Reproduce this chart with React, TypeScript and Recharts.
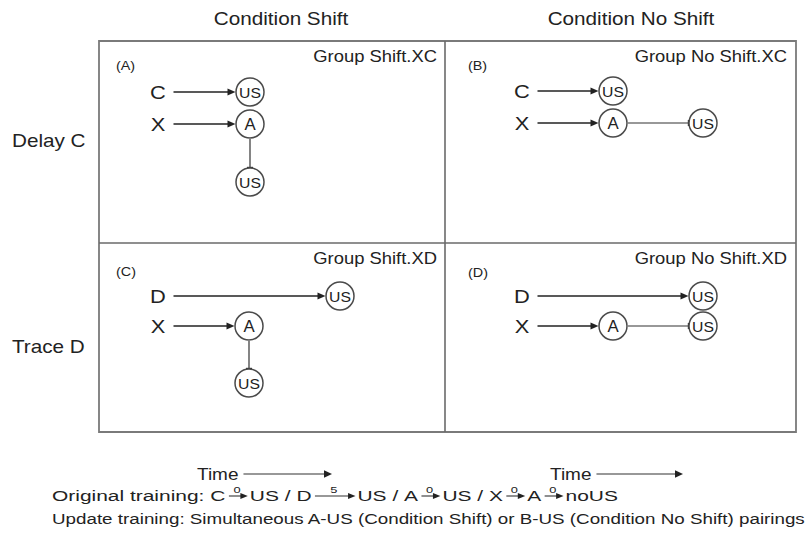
import React from 'react';
import { ScatterChart, Scatter, XAxis, YAxis, ReferenceArea, ReferenceLine } from 'recharts';

const W = 811;
const H = 558;

// text content
const columnTitles = ['Condition Shift', 'Condition No Shift'];
const rowTitles = ['Delay C', 'Trace D'];
const panelTags = ['(A)', '(B)', '(C)', '(D)'];
const groupNames = ['Group Shift.XC', 'Group No Shift.XC', 'Group Shift.XD', 'Group No Shift.XD'];
const timeLabels = ['Time', 'Time'];
// chains of stimulus / delay / stimulus ...
const originalTraining = [
	['C', '0', 'US'],
	['D', '5', 'US'],
	['A', '0', 'US'],
	['X', '0', 'A', '0', 'noUS'],
];
const updateTraining = 'Update training: Simultaneous A-US (Condition Shift) or B-US (Condition No Shift) pairings';

// diagram nodes, in page coordinates
const cueNodes = [
	{ panel: 'A', id: 'C', x: 158, y: 92 },
	{ panel: 'A', id: 'X', x: 158, y: 124 },
	{ panel: 'B', id: 'C', x: 522, y: 91 },
	{ panel: 'B', id: 'X', x: 522, y: 123 },
	{ panel: 'C', id: 'D', x: 158, y: 296 },
	{ panel: 'C', id: 'X', x: 158, y: 326 },
	{ panel: 'D', id: 'D', x: 522, y: 296 },
	{ panel: 'D', id: 'X', x: 522, y: 326 },
];
const eventNodes = [
	{ panel: 'A', id: 'US1', label: 'US', x: 250, y: 92 },
	{ panel: 'A', id: 'A', label: 'A', x: 250, y: 124 },
	{ panel: 'A', id: 'US2', label: 'US', x: 250, y: 182 },
	{ panel: 'B', id: 'US1', label: 'US', x: 613, y: 91 },
	{ panel: 'B', id: 'A', label: 'A', x: 613, y: 123 },
	{ panel: 'B', id: 'US2', label: 'US', x: 703, y: 123 },
	{ panel: 'C', id: 'US1', label: 'US', x: 340, y: 296 },
	{ panel: 'C', id: 'A', label: 'A', x: 249, y: 326 },
	{ panel: 'C', id: 'US2', label: 'US', x: 249, y: 383 },
	{ panel: 'D', id: 'US1', label: 'US', x: 703, y: 296 },
	{ panel: 'D', id: 'A', label: 'A', x: 613, y: 326 },
	{ panel: 'D', id: 'US2', label: 'US', x: 703, y: 326 },
];
const links = [
	{ panel: 'A', from: 'C', to: 'US1', head: 'arrow' },
	{ panel: 'A', from: 'X', to: 'A', head: 'arrow' },
	{ panel: 'A', from: 'A', to: 'US2', head: 'tee' },
	{ panel: 'B', from: 'C', to: 'US1', head: 'arrow' },
	{ panel: 'B', from: 'X', to: 'A', head: 'arrow' },
	{ panel: 'B', from: 'A', to: 'US2', head: 'tee' },
	{ panel: 'C', from: 'D', to: 'US1', head: 'arrow' },
	{ panel: 'C', from: 'X', to: 'A', head: 'arrow' },
	{ panel: 'C', from: 'A', to: 'US2', head: 'tee' },
	{ panel: 'D', from: 'D', to: 'US1', head: 'arrow' },
	{ panel: 'D', from: 'X', to: 'A', head: 'arrow' },
	{ panel: 'D', from: 'A', to: 'US2', head: 'tee' },
];

// layout
const box = { left: 99, right: 796, top: 41, bottom: 432, midX: 445, midY: 243 };
const FONT = '"Liberation Sans", Arial, Helvetica, sans-serif';
const TXT = '#222';
const SX = 1.15; // the figure is a bit wide
const R = 14;
const CUE_GAP = 15.5;

let ctx: CanvasRenderingContext2D | null = null;
const measure = (s: string, size: number) => {
	if (!ctx) ctx = document.createElement('canvas').getContext('2d');
	ctx!.font = `${size}px "Liberation Sans"`;
	return ctx!.measureText(s).width;
};

const StretchText = ({ x, y, text, size, anchor = 'start', sx = SX }: any) => (
	<text
		transform={`translate(${x},${y}) scale(${sx},1)`}
		x={0}
		y={0}
		fontSize={size}
		fontFamily={FONT}
		fill={TXT}
		textAnchor={anchor}
		dominantBaseline='central'
	>
		{text}
	</text>
);

const textShape = (size: number, anchor: string) => (p: any) =>
	<StretchText x={p.cx} y={p.cy} text={p.payload.text} size={size} anchor={anchor} />;

const EventShape = (p: any) => (
	<g>
		<circle cx={p.cx} cy={p.cy} r={R} fill='#fff' stroke='#4a4a4a' strokeWidth={1.5} />
		<StretchText
			x={p.cx}
			y={p.cy + 0.5}
			text={p.payload.label}
			size={p.payload.label === 'A' ? 16 : 15}
			anchor='middle'
			sx={1.05}
		/>
	</g>
);

const edgeShape = (head: string) => (p: any) => {
	const { x1, y1, x2, y2 } = p;
	const len = Math.hypot(x2 - x1, y2 - y1) || 1;
	const ux = (x2 - x1) / len;
	const uy = (y2 - y1) / len;
	const nx = -uy;
	const ny = ux;
	if (head === 'arrow') {
		const hl = 8;
		const hw = 3.6;
		const bx = x2 - ux * hl;
		const by = y2 - uy * hl;
		return (
			<g>
				<line x1={x1} y1={y1} x2={bx + ux} y2={by + uy} stroke='#222' strokeWidth={1.4} />
				<polygon
					points={`${x2},${y2} ${bx + nx * hw},${by + ny * hw} ${bx - nx * hw},${by - ny * hw}`}
					fill='#222'
				/>
			</g>
		);
	}
	const hw = 3;
	return (
		<g>
			<line x1={x1} y1={y1} x2={x2} y2={y2} stroke='#333' strokeWidth={1.2} />
			<line
				x1={x2 + nx * hw}
				y1={y2 + ny * hw}
				x2={x2 - nx * hw}
				y2={y2 - ny * hw}
				stroke='#333'
				strokeWidth={1.4}
			/>
		</g>
	);
};

const linkSegments = links.map((l) => {
	const cue = cueNodes.find((n) => n.panel === l.panel && n.id === l.from);
	const src = cue || eventNodes.find((n) => n.panel === l.panel && n.id === l.from)!;
	const dst = eventNodes.find((n) => n.panel === l.panel && n.id === l.to)!;
	const len = Math.hypot(dst.x - src.x, dst.y - src.y);
	const ux = (dst.x - src.x) / len;
	const uy = (dst.y - src.y) / len;
	const off = cue ? CUE_GAP : R + 1;
	return {
		head: l.head,
		seg: [
			{ x: src.x + ux * off, y: src.y + uy * off },
			{ x: dst.x - ux * (R + 0.5), y: dst.y - uy * (R + 0.5) },
		],
	};
});

// time arrows under each column
const timeX = [197, 550];
const timeArrowEnd = [332, 683];
const timeY = 474;

const TimeShape = (p: any) => {
	const i = p.payload.i;
	const x0 = p.cx + measure(p.payload.text, 16.5) * SX + 5;
	const x1 = timeArrowEnd[i];
	return (
		<g>
			<StretchText x={p.cx} y={p.cy} text={p.payload.text} size={16.5} />
			<line x1={x0} y1={p.cy} x2={x1 - 7} y2={p.cy} stroke='#333' strokeWidth={1.2} />
			<polygon points={`${x1},${p.cy} ${x1 - 8},${p.cy - 3.8} ${x1 - 8},${p.cy + 3.8}`} fill='#222' />
		</g>
	);
};

const LINE_X = 52;
const ORIG_END = 618;
const UPDATE_END = 806;
const LINE_SIZE = 15.5;

const OriginalShape = (p: any) => {
	const parts: React.ReactNode[] = [];
	let x = 0;
	const addText = (s: string) => {
		parts.push(
			<text key={parts.length} x={x} y={0} fontSize={LINE_SIZE} fontFamily={FONT} fill={TXT} dominantBaseline='central' style={{ whiteSpace: 'pre' }}>
				{s}
			</text>
		);
		x += measure(s, LINE_SIZE);
	};
	const addArrow = (d: string) => {
		const x0 = x + 2.5;
		const x1 = x0 + 14 + Number(d) * 3.2;
		parts.push(
			<g key={parts.length}>
				<line x1={x0} y1={0} x2={x1 - 4} y2={0} stroke='#333' strokeWidth={1.1} />
				<polygon points={`${x1},0 ${x1 - 5.5},-3 ${x1 - 5.5},3`} fill='#222' />
				<text x={(x0 + x1) / 2 - 1} y={-6.5} fontSize={9.5} fontFamily={FONT} fill={TXT} textAnchor='middle' dominantBaseline='central'>
					{d}
				</text>
			</g>
		);
		x = x1 + 1.5;
	};
	addText('Original training: ');
	originalTraining.forEach((chain, i) => {
		if (i) addText(' / ');
		chain.forEach((tok, j) => (j % 2 ? addArrow(tok) : addText(tok)));
	});
	const sx = (ORIG_END - LINE_X) / x;
	return <g transform={`translate(${p.cx},${p.cy}) scale(${sx},1)`}>{parts}</g>;
};

const UpdateShape = (p: any) => {
	const sx = (UPDATE_END - LINE_X) / measure(p.payload.text, LINE_SIZE);
	return <StretchText x={p.cx} y={p.cy} text={p.payload.text} size={LINE_SIZE} sx={sx} />;
};

const columnData = columnTitles.map((text, i) => ({ x: [281, 631][i], y: 19, text }));
const rowData = rowTitles.map((text, i) => ({ x: 12, y: [141, 347][i], text }));
const tagData = panelTags.map((text, i) => ({ x: [116, 468, 116, 468][i], y: [66, 66, 272, 273][i], text }));
const groupData = groupNames.map((text, i) => ({ x: [437, 787, 437, 787][i], y: [56, 56, 258, 258][i], text }));
const cueData = cueNodes.map((n) => ({ x: n.x, y: n.y, text: n.id }));
const timeData = timeLabels.map((text, i) => ({ x: timeX[i], y: timeY, text, i }));
const origData = [{ x: LINE_X, y: 496, text: 'orig' }];
const updateData = [{ x: LINE_X, y: 519, text: updateTraining }];

export default function App() {
	return (
		<div style={{ position: 'absolute', left: 0, top: 0, width: W, height: H, background: '#fff' }}>
			<ScatterChart width={W} height={H} margin={{ top: 0, right: 0, bottom: 0, left: 0 }}>
				<XAxis type='number' dataKey='x' domain={[0, W]} allowDataOverflow hide />
				<YAxis type='number' dataKey='y' domain={[0, H]} allowDataOverflow reversed hide />
				<ReferenceArea
					x1={box.left}
					x2={box.right}
					y1={box.top}
					y2={box.bottom}
					fill='none'
					fillOpacity={0}
					stroke='#7a7a7a'
					strokeWidth={1.8}
				/>
				<ReferenceLine
					segment={[{ x: box.midX, y: box.top }, { x: box.midX, y: box.bottom }]}
					stroke='#6a6a6a'
					strokeWidth={1.6}
				/>
				<ReferenceLine
					segment={[{ x: box.left, y: box.midY }, { x: box.right, y: box.midY }]}
					stroke='#6a6a6a'
					strokeWidth={1.6}
				/>
				{linkSegments.map((l, i) => (
					<ReferenceLine key={i} segment={l.seg} shape={edgeShape(l.head)} />
				))}
				<Scatter data={eventNodes} shape={EventShape} isAnimationActive={false} />
				<Scatter data={cueData} shape={textShape(19, 'middle')} isAnimationActive={false} />
				<Scatter data={columnData} shape={textShape(18, 'middle')} isAnimationActive={false} />
				<Scatter data={rowData} shape={textShape(18, 'start')} isAnimationActive={false} />
				<Scatter data={tagData} shape={textShape(12.5, 'start')} isAnimationActive={false} />
				<Scatter data={groupData} shape={textShape(16, 'end')} isAnimationActive={false} />
				<Scatter data={timeData} shape={TimeShape} isAnimationActive={false} />
				<Scatter data={origData} shape={OriginalShape} isAnimationActive={false} />
				<Scatter data={updateData} shape={UpdateShape} isAnimationActive={false} />
			</ScatterChart>
		</div>
	);
}
